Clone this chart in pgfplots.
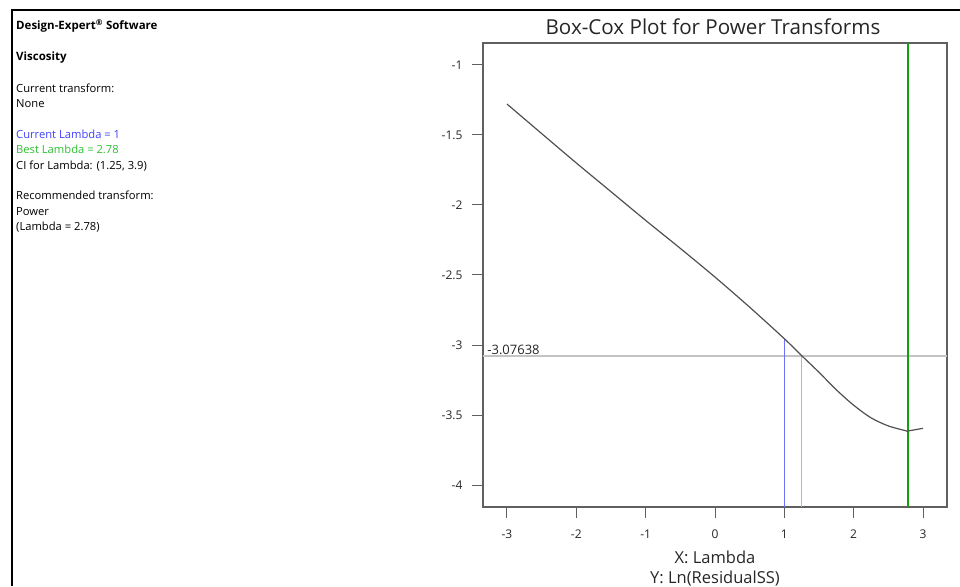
\documentclass[border=0pt]{standalone}
\usepackage{fontspec}
\setmainfont{Open Sans}
\usepackage{pgfplots}
\pgfplotsset{compat=1.18}
\definecolor{curve}{HTML}{505050}
\definecolor{bluel}{HTML}{7070FF}
\definecolor{bluet}{HTML}{4040FF}
\definecolor{greenl}{HTML}{10A010}
\definecolor{greent}{HTML}{30C030}
\definecolor{pinkl}{HTML}{FF9A9A}
\definecolor{grayl}{HTML}{C4C4C4}
\definecolor{axisc}{HTML}{606060}
\begin{document}
\begin{tikzpicture}
\begin{axis}[
  scale only axis, width=464pt, height=464pt,
  xmin=-3.346, xmax=3.346, ymin=-4.157, ymax=-0.843,
  xtick={-3,-2,-1,0,1,2,3},
  ytick={-4,-3.5,-3,-2.5,-2,-1.5,-1},
  tick pos=left, tick align=outside, major tick length=11pt,
  tick style={axisc,line width=1pt},
  axis line style={axisc,line width=1.2pt},
  /pgf/number format/assume math mode=true,
  ticklabel style={font=\fontsize{12}{14}\selectfont,text=black!85},
  xticklabel style={yshift=-8pt},
  yticklabel style={xshift=-6pt},
  clip=false,
]
\addplot[grayl,line width=1.8pt] coordinates {(-3.346,-3.07638) (3.346,-3.07638)};
\addplot[bluel,line width=1.2pt] coordinates {(1,-4.157) (1,-2.955)};
\addplot[pinkl,line width=1.2pt] coordinates {(1.25,-4.157) (1.25,-3.07638)};
\addplot[greenl,line width=2pt] coordinates {(2.78,-4.157) (2.78,-0.843)};
\addplot[curve,line width=1.2pt,smooth] coordinates {
(-3,-1.279) (-2.5,-1.49) (-2,-1.70) (-1.5,-1.905) (-1,-2.11) (-0.5,-2.31)
(0,-2.515) (0.5,-2.73) (1,-2.955) (1.25,-3.076) (1.5,-3.195) (1.75,-3.32)
(2,-3.43) (2.25,-3.52) (2.5,-3.578) (2.75,-3.612) (2.78,-3.614) (3,-3.595)};
\node[anchor=south west,inner sep=1pt,font=\fontsize{13}{15}\selectfont,text=black!85] at (axis cs:-3.30,-3.07638) {-3.07638};
\coordinate (O) at (rel axis cs:0,0);
\end{axis}
\pgfresetboundingbox
\begin{scope}[shift={(O)},x=1pt,y=1pt]
\useasboundingbox ({0-483},{0-79}) rectangle ({960-483},{586-79});
\draw[line width=2.5pt,black] ({12-483},{0-79}) -- ({12-483},{576-79}) -- ({960-483},{576-79});
\begin{scope}[every node/.style={anchor=base west,inner sep=0pt,font=\fontsize{11.2}{12}\selectfont}]
\node[font=\fontsize{11.5}{12}\selectfont\bfseries] at ({16-483},{586-29.5-79}) {Design-Expert\textsuperscript{®} Software};
\node[font=\fontsize{11.5}{12}\selectfont\bfseries] at ({16-483},{586-61-79}) {Viscosity};
\node at ({16-483},{586-92.5-79}) {Current transform:};
\node at ({16-483},{586-108-79}) {None};
\node[text=bluet] at ({16-483},{586-138.5-79}) {Current Lambda = 1};
\node[text=greent] at ({16-483},{586-154-79}) {Best Lambda = 2.78};
\node at ({16-483},{586-169.5-79}) {CI for Lambda: (1.25, 3.9)};
\node at ({16-483},{586-200-79}) {Recommended transform:};
\node at ({16-483},{586-215.5-79}) {Power};
\node at ({16-483},{586-231-79}) {(Lambda = 2.78)};
\end{scope}
\node[font=\fontsize{20.6}{24}\selectfont,text=black!85] at ({713-483},{586-27-79}) {Box-Cox Plot for Power Transforms};
\node[font=\fontsize{16.5}{19}\selectfont,text=black!85] at ({715-483},{586-557-79}) {X: Lambda};
\node[font=\fontsize{16.5}{19}\selectfont,text=black!85] at ({715-483},{586-579-79}) {Y: Ln(ResidualSS)};
\end{scope}
\end{tikzpicture}
\end{document}
